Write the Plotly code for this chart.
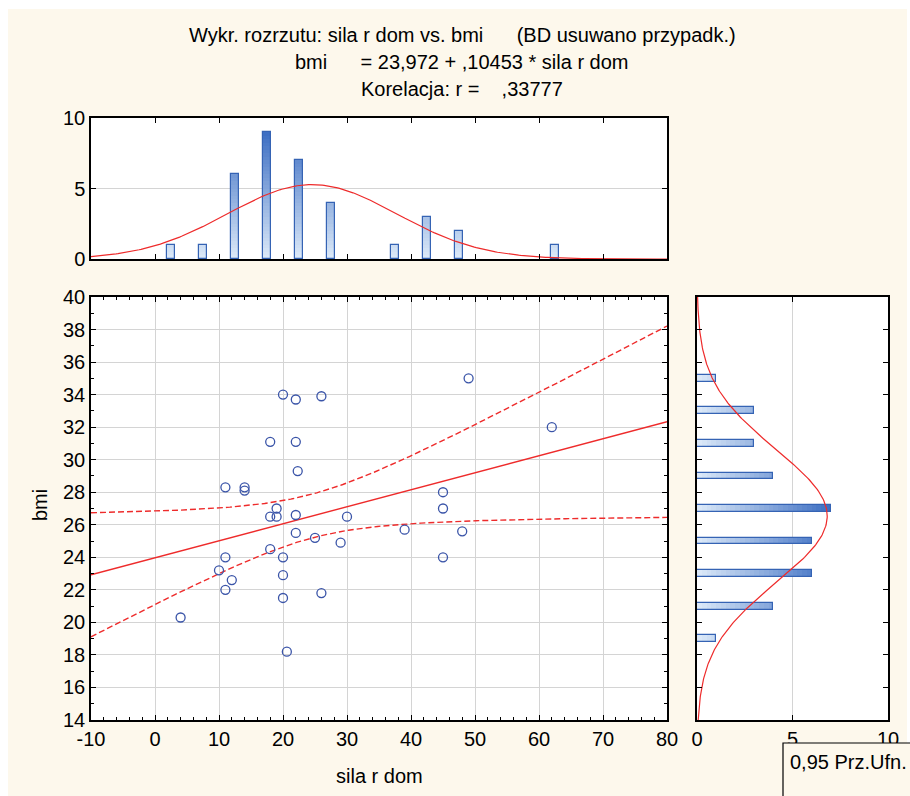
import numpy as np
import plotly.graph_objects as go

# ---------------- data ----------------
sila = [20, 22, 26, 18, 22, 22.3, 11, 14, 14, 19, 18, 19, 22, 30, 22, 25, 29, 18,
        11, 20, 10, 20, 12, 11, 26, 20, 4, 20.6, 49, 62, 45, 45, 39, 48, 45]
bmi = [34, 33.7, 33.9, 31.1, 31.1, 29.3, 28.3, 28.3, 28.1, 27, 26.5, 26.5, 26.6, 26.5,
       25.5, 25.2, 24.9, 24.5, 24, 24, 23.2, 22.9, 22.6, 22, 21.8, 21.5, 20.3, 18.2,
       35, 32, 28, 27, 25.7, 25.6, 24]

# top histogram (sila r dom), bins of width 5
sila_bin_centers = [2.5, 7.5, 12.5, 17.5, 22.5, 27.5, 37.5, 42.5, 47.5, 62.5]
sila_counts = [1, 1, 6, 9, 7, 4, 1, 3, 2, 1]
sila_bin_width = 5

# right histogram (bmi), bins of width 2
bmi_bin_centers = [19, 21, 23, 25, 27, 29, 31, 33, 35]
bmi_counts = [1, 4, 6, 6, 7, 4, 3, 3, 1]
bmi_bin_width = 2

# tick labels
x_tick_vals = [-10, 0, 10, 20, 30, 40, 50, 60, 70, 80]
x_tick_text = ["-10", "0", "10", "20", "30", "40", "50", "60", "70", "80"]

intercept = 23.972
slope = 0.10453
t_crit = 2.0345  # t(0.975, df=33)

NB = "\u00a0"
title_lines = [
    "Wykr. rozrzutu: sila r dom vs. bmi" + NB * 6 + "(BD usuwano przypadk.)",
    "bmi" + NB * 6 + "= 23,972 + ,10453 * sila r dom",
    "Korelacja: r =" + NB * 4 + ",33777",
]
x_label = "sila r dom"
y_label = "bmi"
legend_text = "0,95 Prz.Ufn."

# ---------------- layout constants ----------------
W, H = 910, 796
FONT = "Liberation Sans, Arial, sans-serif"
FS = 20
CREAM = "#fdf8ec"
RED = "#ee2b2b"
BLUE_MK = "#3a54a8"
EDGE = "#3563b4"
LIGHT = np.array([222, 235, 249])
DARK = np.array([60, 110, 195])

def px_x(p):
    return p / W

def px_y(p):
    return 1 - p / H

fig = go.Figure()

# ---------------- scatter + regression ----------------
xs = np.array(sila, dtype=float)
ys = np.array(bmi, dtype=float)
n = len(xs)
xbar = xs.mean()
sxx = ((xs - xbar) ** 2).sum()
resid = ys - (intercept + slope * xs)
s = np.sqrt((resid ** 2).sum() / (n - 2))
xl = np.linspace(-10, 80, 200)
yl = intercept + slope * xl
half = t_crit * s * np.sqrt(1 / n + (xl - xbar) ** 2 / sxx)

fig.add_trace(go.Scatter(x=xl, y=yl + half, mode="lines", xaxis="x", yaxis="y",
                         line=dict(color=RED, width=1.4, dash="6px,3px"), hoverinfo="skip"))
fig.add_trace(go.Scatter(x=xl, y=yl - half, mode="lines", xaxis="x", yaxis="y",
                         line=dict(color=RED, width=1.4, dash="6px,3px"), hoverinfo="skip"))
fig.add_trace(go.Scatter(x=xl, y=yl, mode="lines", xaxis="x", yaxis="y",
                         line=dict(color=RED, width=1.4), hoverinfo="skip"))
fig.add_trace(go.Scatter(x=sila, y=bmi, mode="markers", xaxis="x", yaxis="y",
                         marker=dict(symbol="circle-open", size=9, color=BLUE_MK,
                                     line=dict(width=1.3, color=BLUE_MK))))

# ---------------- gradient histogram bars ----------------
def grad_color(frac):
    c = LIGHT + (DARK - LIGHT) * min(max(frac, 0), 1)
    return "rgb(%d,%d,%d)" % tuple(c.astype(int))

step = 0.25
def add_hist(centers, counts, width, xa, ya, horizontal):
    counts = np.array(counts, dtype=float)
    mx = counts.max()
    nlev = int(np.ceil(mx / step))
    for k in range(nlev):
        lo = k * step
        seg = np.clip(counts - lo, 0, step)
        col = grad_color((lo + step / 2) / mx)
        if horizontal:
            fig.add_trace(go.Bar(y=centers, x=seg, base=lo, orientation="h", width=width,
                                 xaxis=xa, yaxis=ya, marker=dict(color=col, line=dict(width=0)),
                                 hoverinfo="skip"))
        else:
            fig.add_trace(go.Bar(x=centers, y=seg, base=lo, width=width,
                                 xaxis=xa, yaxis=ya, marker=dict(color=col, line=dict(width=0)),
                                 hoverinfo="skip"))
    if horizontal:
        fig.add_trace(go.Bar(y=centers, x=counts, base=0, orientation="h", width=width,
                             xaxis=xa, yaxis=ya,
                             marker=dict(color="rgba(0,0,0,0)", line=dict(color=EDGE, width=1.2))))
    else:
        fig.add_trace(go.Bar(x=centers, y=counts, base=0, width=width,
                             xaxis=xa, yaxis=ya,
                             marker=dict(color="rgba(0,0,0,0)", line=dict(color=EDGE, width=1.2))))

add_hist(sila_bin_centers, sila_counts, 1.1, "x2", "y2", False)
add_hist(bmi_bin_centers, bmi_counts, 0.42, "x3", "y3", True)

# normal curves
def npdf(v, m, sd):
    return np.exp(-0.5 * ((v - m) / sd) ** 2) / (sd * np.sqrt(2 * np.pi))

xc = np.linspace(-10, 80, 300)
fig.add_trace(go.Scatter(x=xc, y=n * sila_bin_width * npdf(xc, xs.mean(), xs.std(ddof=1)),
                         mode="lines", xaxis="x2", yaxis="y2",
                         line=dict(color=RED, width=1.2), hoverinfo="skip"))
yc = np.linspace(14, 40, 300)
fig.add_trace(go.Scatter(y=yc, x=n * bmi_bin_width * npdf(yc, ys.mean(), ys.std(ddof=1)),
                         mode="lines", xaxis="x3", yaxis="y3",
                         line=dict(color=RED, width=1.2), hoverinfo="skip"))

# ---------------- axes ----------------
tickfont = dict(family=FONT, size=FS, color="black")
common = dict(showline=True, linecolor="black", linewidth=1.5, mirror="ticks",
              ticks="inside", tickcolor="black", ticklen=5, tickwidth=1.3,
              gridcolor="#d4d4d4", gridwidth=1, zeroline=False, tickfont=tickfont,
              fixedrange=True, automargin=False)

fig.update_layout(
    width=W, height=H, margin=dict(l=0, r=0, t=0, b=0),
    paper_bgcolor=CREAM, plot_bgcolor="white",
    showlegend=False, barmode="overlay", bargap=0,
    font=dict(family=FONT, size=FS, color="black"),
    xaxis=dict(domain=[px_x(91), px_x(667)], anchor="y", range=[-10, 80],
               tickmode="array", tickvals=x_tick_vals, ticktext=x_tick_text,
               minor=dict(dtick=2, ticks="inside", ticklen=3, tickcolor="black", showgrid=False),
               **common),
    yaxis=dict(domain=[px_y(720), px_y(297)], anchor="x", range=[14, 40], dtick=2,
               minor=dict(dtick=1, ticks="inside", ticklen=3, tickcolor="black", showgrid=False),
               **common),
    xaxis2=dict(domain=[px_x(91), px_x(667)], anchor="y2", range=[-10, 80], dtick=10,
                showticklabels=False, showgrid=False, **common),
    yaxis2=dict(domain=[px_y(259), px_y(118)], anchor="x2", range=[0, 10], dtick=5,
                **common),
    xaxis3=dict(domain=[px_x(697), px_x(888)], anchor="y3", range=[0, 10], dtick=5,
                **common),
    yaxis3=dict(domain=[px_y(720), px_y(297)], anchor="x3", range=[14, 40], dtick=2,
                showticklabels=False, showgrid=False, **common),
)

# white page margins around the cream panel
for (x0, x1, y0, y1) in [(0, W, 0, 9), (0, 8, 0, H), (907, W, 0, H)]:
    fig.add_shape(type="rect", xref="paper", yref="paper", x0=px_x(x0), x1=px_x(x1),
                  y0=px_y(y1), y1=px_y(y0), fillcolor="white", line=dict(width=0),
                  layer="below")

# titles
for i, t in enumerate(title_lines):
    fig.add_annotation(text=t, xref="paper", yref="paper", x=px_x(462), y=px_y(35 + 27 * i),
                       xanchor="center", yanchor="middle", showarrow=False,
                       font=dict(family=FONT, size=FS, color="black"))

fig.add_annotation(text=x_label, xref="paper", yref="paper", x=px_x(379), y=px_y(776),
                   xanchor="center", yanchor="middle", showarrow=False,
                   font=dict(family=FONT, size=FS, color="black"))
fig.add_annotation(text=y_label, xref="paper", yref="paper", x=px_x(40), y=px_y(505),
                   xanchor="center", yanchor="middle", showarrow=False, textangle=-90,
                   font=dict(family=FONT, size=FS, color="black"))

# confidence legend box
fig.add_shape(type="rect", xref="paper", yref="paper", x0=px_x(783), x1=px_x(920),
              y0=px_y(800), y1=px_y(743), fillcolor=CREAM,
              line=dict(color="black", width=1.2), layer="above")
fig.add_annotation(text=legend_text, xref="paper", yref="paper", x=px_x(788), y=px_y(762),
                   xanchor="left", yanchor="middle", showarrow=False,
                   font=dict(family=FONT, size=FS, color="black"))

fig.write_html("out.html")
